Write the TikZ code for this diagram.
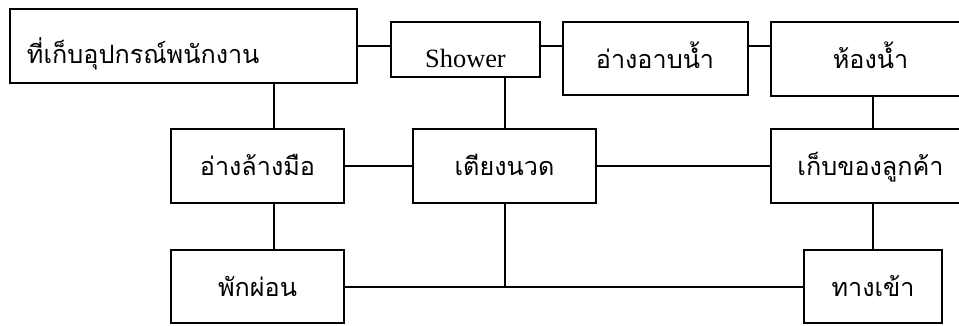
\documentclass[tikz,border=0pt]{standalone}
\usepackage{fontspec}
\newfontfamily\thaifont[Script=Thai]{Loma}
\newfontfamily\latinserif{Liberation Serif}
\tikzset{
  room/.style={draw, line width=1.7pt, inner sep=0pt, text height=17pt, text depth=0pt,
    font=\thaifont\fontsize{21.5}{26}\selectfont},
  link/.style={line width=1.7pt}
}
\begin{document}
\begin{tikzpicture}[x=0.03cm, y=-0.03cm]
  \useasboundingbox (0,0) rectangle (959,325);

  % แถวบน
  \node[room, minimum width=10.41cm, minimum height=2.22cm, text width=9.39cm, align=left,
        text height=30pt] (store) at (183.5,46) {ที่เก็บอุปกรณ์พนักงาน};
  \node[room, minimum width=4.47cm, minimum height=1.65cm, text height=30pt,
        font=\latinserif\fontsize{22.5}{26}\selectfont] (shower) at (465.5,49.5) {Shower};
  \node[room, minimum width=5.55cm, minimum height=2.19cm] (bath) at (655,58.5) {อ่างอาบน้ำ};
  \node[room, minimum width=5.97cm, minimum height=2.22cm] (toilet) at (870.5,59) {ห้องน้ำ};

  % แถวกลาง
  \node[room, minimum width=5.19cm, minimum height=2.22cm] (sink) at (257.5,166) {อ่างล้างมือ};
  \node[room, minimum width=5.49cm, minimum height=2.22cm] (bed) at (504.5,166) {เตียงนวด};
  \node[room, minimum width=5.97cm, minimum height=2.22cm] (locker) at (870.5,166) {เก็บของลูกค้า};

  % แถวล่าง
  \node[room, minimum width=5.19cm, minimum height=2.19cm] (rest) at (257.5,286.5) {พักผ่อน};
  \node[room, minimum width=4.14cm, minimum height=2.19cm] (entry) at (873,286.5) {ทางเข้า};

  \coordinate (wash) at (274,120); % แนวเส้นตั้งฝั่งซ้าย

  % เส้นเชื่อม
  \draw[link] (store.east) -- (shower.west |- store.east);
  \draw[link] (shower.east |- store.east) -- (bath.west |- store.east);
  \draw[link] (bath.east |- store.east) -- (toilet.west |- store.east);
  \draw[link] (store.south -| wash) -- (sink.north -| wash);
  \draw[link] (sink.south -| wash) -- (rest.north -| wash);
  \draw[link] (bed.north) -- (bed.north |- shower.south);
  \draw[link] (sink.east) -- (bed.west);
  \draw[link] (bed.east) -- (locker.west);
  \draw[link] (toilet.south -| entry.north) -- (locker.north -| entry.north);
  \draw[link] (locker.south -| entry.north) -- (entry.north);
  \draw[link] (rest.east) -- (entry.west);
  \draw[link] (bed.south) -- (bed.south |- rest.east);
\end{tikzpicture}
\end{document}
